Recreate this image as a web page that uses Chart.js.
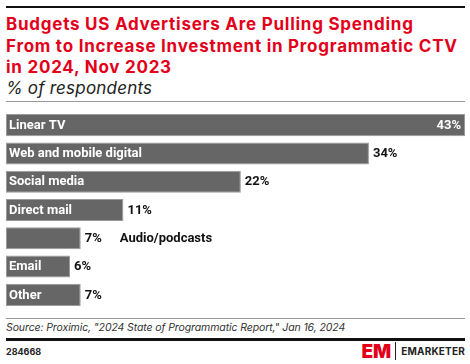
<!DOCTYPE html>
<html>
<head>
<meta charset="utf-8">
<script src="https://cdn.jsdelivr.net/npm/chart.js@4/dist/chart.umd.min.js"></script>
<style>
  body { margin: 0; background: #fff; }
  #wrap { position: relative; width: 470px; height: 364px; overflow: hidden; font-family: Inter, "Noto Sans", sans-serif; }
  .rule { position: absolute; left: 6px; right: 5px; }
  #title { position: absolute; left: 6px; top: 14px; width: 464px; white-space: nowrap; color: #e3001b; font-weight: 700; font-size: 17px; line-height: 21.5px; letter-spacing: 0.75px; }
  #subtitle { position: absolute; left: 6px; top: 78px; font-style: italic; font-size: 17px; color: #222; letter-spacing: 0.2px; }
  #chartBox { position: absolute; left: 0; top: 111px; width: 470px; height: 198px; }
  #source { position: absolute; left: 6px; top: 321px; font-style: italic; font-size: 10.5px; color: #333; letter-spacing: -0.1px; }
  #code { position: absolute; left: 6px; top: 346px; font-size: 9px; font-weight: 700; color: #222; }
  #logo { position: absolute; right: 5px; top: 342px; display: flex; align-items: center; }
  #logo .em { color: #e3001b; font-weight: 900; font-size: 19px; letter-spacing: 0px; line-height: 17px; }
  #logo .bar { width: 1px; height: 18px; background: #222; margin: 0 5px 0 4px; }
  #logo .name { font-weight: 700; font-size: 10px; letter-spacing: 0.2px; color: #222; }
</style>
</head>
<body>
<div id="wrap">
  <div class="rule" style="top:6px;height:2px;background:#111"></div>
  <div id="title">Budgets US Advertisers Are Pulling Spending<br>From to Increase Investment in Programmatic CTV<br>in 2024, Nov 2023</div>
  <div id="subtitle">% of respondents</div>
  <div class="rule" style="top:101px;height:1px;background:#999"></div>
  <div id="chartBox"><canvas id="chart"></canvas></div>
  <div class="rule" style="top:318px;height:1px;background:#999"></div>
  <div id="source">Source: Proximic, "2024 State of Programmatic Report," Jan 16, 2024</div>
  <div class="rule" style="top:338px;height:3px;background:#111"></div>
  <div id="code">284668</div>
  <div id="logo"><span class="em">EM</span><span class="bar"></span><span class="name">EMARKETER</span></div>
</div>
<script>
// 데이터
const categories = ['Linear TV', 'Web and mobile digital', 'Social media', 'Direct mail', 'Audio/podcasts', 'Email', 'Other'];
const values = [43, 34, 22, 11, 7, 6, 7];

// 막대 안/밖 라벨 그리기
const barLabels = {
  id: 'barLabels',
  afterDatasetsDraw(chart) {
    const ctx = chart.ctx;
    const area = chart.chartArea;
    const meta = chart.getDatasetMeta(0);
    ctx.save();
    ctx.textBaseline = 'middle';
    ctx.font = '700 13px Roboto, "Noto Sans", sans-serif';
    meta.data.forEach((bar, i) => {
      const left = bar.base;
      const right = bar.x;
      const y = bar.y + 0.5;
      const valText = values[i] + '%';
      const valW = ctx.measureText(valText).width;
      let afterX;
      if (right + 4 + valW > area.right) {
        ctx.fillStyle = '#fff';
        ctx.textAlign = 'right';
        ctx.fillText(valText, right - 4, y);
        afterX = right;
      } else {
        ctx.fillStyle = '#111';
        ctx.textAlign = 'left';
        ctx.fillText(valText, right + 4, y);
        afterX = right + 4 + valW;
      }
      const catW = ctx.measureText(categories[i]).width;
      ctx.textAlign = 'left';
      if (catW + 8 < right - left) {
        ctx.fillStyle = '#fff';
        ctx.fillText(categories[i], left + 3, y);
      } else {
        ctx.fillStyle = '#111';
        ctx.fillText(categories[i], afterX + 18, y);
      }
    });
    ctx.restore();
  }
};

new Chart(document.getElementById('chart'), {
  type: 'bar',
  data: {
    labels: categories,
    datasets: [{
      data: values,
      backgroundColor: '#666666',
      borderColor: '#9a9a9a',
      borderWidth: 1,
      borderSkipped: false,
      barPercentage: 0.78,
      categoryPercentage: 1
    }]
  },
  options: {
    indexAxis: 'y',
    responsive: true,
    maintainAspectRatio: false,
    animation: false,
    layout: { padding: { left: 6, right: 5, top: 0, bottom: 0 } },
    scales: {
      x: { display: false, min: 0, max: 43 },
      y: { display: false }
    },
    plugins: { legend: { display: false }, tooltip: { enabled: false } }
  },
  plugins: [barLabels]
});
</script>
</body>
</html>
